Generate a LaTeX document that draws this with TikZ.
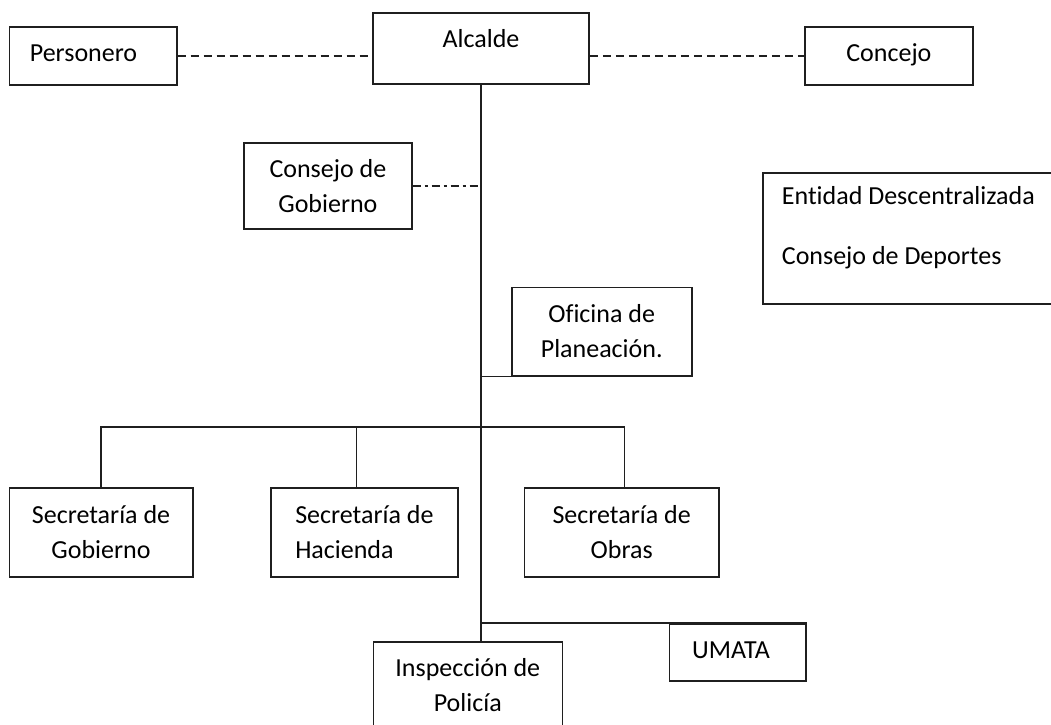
\documentclass[tikz,border=0pt]{standalone}
\usepackage{fontspec}
\setmainfont[Ligatures=NoCommon]{Carlito}
\begin{document}
\begin{tikzpicture}[x=1pt,y=-1pt,
  box/.style={draw=black!88, line width=1.6pt, rectangle, inner sep=0pt, align=center, font=\fontsize{26}{35}\selectfont},
  txt/.style={inner sep=0pt, align=left, font=\fontsize{26}{35}\selectfont},
  conn/.style={draw=black!88, line width=1.5pt},
  dashedconn/.style={conn, dash pattern=on 8pt off 5pt},
  dashdotconn/.style={conn, dash pattern=on 8pt off 4pt on 3pt off 4pt}]
\useasboundingbox (0,0) rectangle (1051,724);
\clip (0,0) rectangle (1051,724);
\fill[white] (0,0) rectangle (1051,724);

\node[box, minimum width=216pt, minimum height=71pt, text depth=20pt] (alcalde) at (481,48.5) {Alcalde};
\node[box, minimum width=167.4pt, minimum height=58.3pt, text depth=6pt] (personero) at (93,55.9) {Personero\hspace{19pt}};
\node[box, minimum width=167.7pt, minimum height=58pt, text depth=6pt] (concejo) at (888.9,56) {Concejo};
\node[box, minimum width=167.7pt, minimum height=86.3pt] (consejo) at (327.9,185.9) {Consejo de\\Gobierno};
\node[box, minimum width=180pt, minimum height=88.4pt] (oficina) at (601.7,331.5) {Oficina de\\Planeación.};
\node[box, minimum width=307.3pt, minimum height=131.3pt] (entidad) at (916.35,238.35) {};
\node[txt, anchor=west] (entidadT) at (781.7,228) {Entidad Descentralizada\\[25pt]Consejo de Deportes};
\node[box, minimum width=183.4pt, minimum height=89pt] (sgob) at (101,532.5) {Secretaría de\\Gobierno};
\node[box, minimum width=187.3pt, minimum height=89pt, align=left] (shac) at (364.35,532.5) {Secretaría de\\Hacienda};
\node[box, minimum width=194.7pt, minimum height=89pt] (sobr) at (621.65,532.5) {Secretaría de\\Obras};
\node[box, minimum width=189pt, minimum height=86.6pt] (insp) at (467.8,685) {Inspección de\\Policía};
\node[box, minimum width=136.4pt, minimum height=57pt, text depth=5pt] (umata) at (737.5,652.5) {UMATA\hspace{13pt}};

\coordinate (trunkbot) at (alcalde.south |- insp.north);
\draw[conn] (alcalde.south) -- (trunkbot);
\draw[dashedconn] (personero.east) -- (personero.east -| alcalde.west);
\draw[dashedconn] (alcalde.east |- concejo.west) -- (concejo.west);
\draw[dashdotconn] (consejo.east) -- (consejo.east -| alcalde.south);
\draw[conn] (oficina.south west) -- (oficina.south west -| alcalde.south);
\draw[conn] (sgob.north) -- ++(0,-60) -| ([xshift=3pt]sobr.north);
\draw[conn] ([xshift=-8pt]shac.north) -- ++(0,-60);
\draw[conn] (umata.north east) -- (umata.north east -| alcalde.south);
\end{tikzpicture}
\end{document}
